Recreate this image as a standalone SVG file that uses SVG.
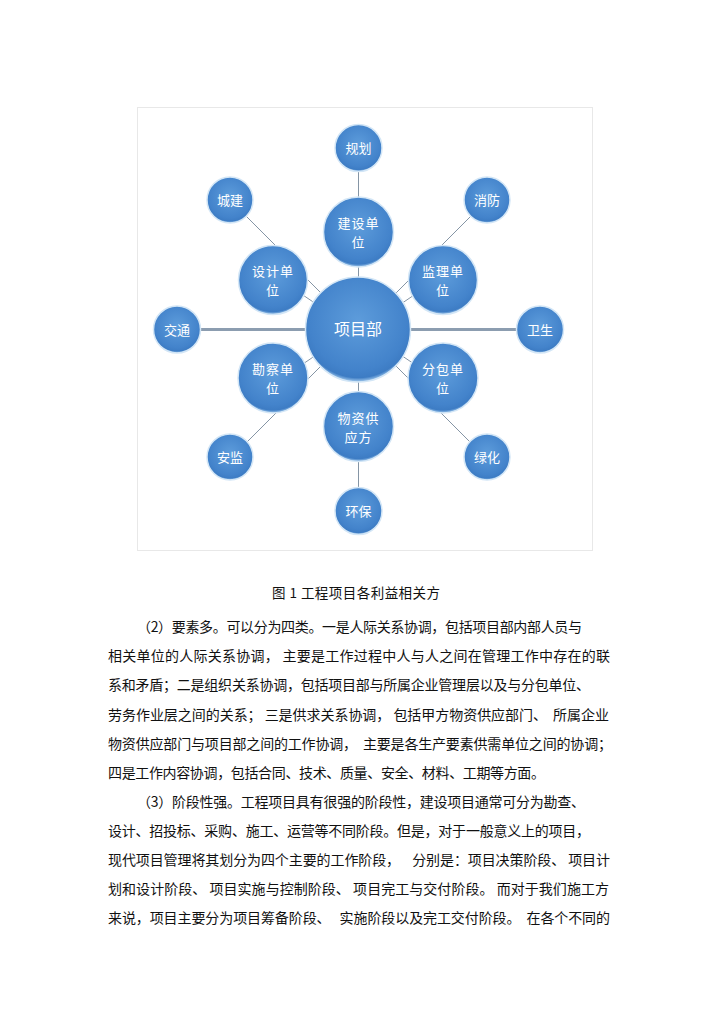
<svg xmlns="http://www.w3.org/2000/svg" width="724" height="1024" viewBox="0 0 724 1024">
<defs>
<radialGradient id="ball" cx="50%" cy="42%" r="58%">
<stop offset="0" stop-color="#5d9cdb"/>
<stop offset="0.8" stop-color="#4383cb"/>
<stop offset="0.93" stop-color="#3d7cc4"/>
<stop offset="1" stop-color="#a9cff0"/>
</radialGradient>
</defs>
<style>
.node circle{fill:url(#ball);stroke:#d3e6f6;stroke-width:1.5}
.node text{font-family:"Noto Sans CJK SC","Noto Sans",sans-serif;fill:#ffffff;text-anchor:middle}
.s{font-size:13px}
.m{font-size:13px;letter-spacing:1px}
.l{font-size:16px}
.thin{stroke:#8595a5;stroke-width:1;fill:none}
.thick{stroke:#8c9db0;stroke-width:3;fill:none}
.body{font-family:"Noto Sans CJK SC","Noto Sans",sans-serif;font-size:14px;fill:#111111;white-space:pre}
.cap{font-family:"Noto Sans CJK SC","Noto Sans",sans-serif;font-size:13.5px;fill:#111111;white-space:pre}
</style>
<rect width="724" height="1024" fill="#ffffff"/>
<rect x="137.5" y="107.5" width="455" height="443" fill="none" stroke="#e8e8e8" stroke-width="1"/>
<g id="connectors">
<line class="thin" x1="358.5" y1="148" x2="358.5" y2="511"/>
<line class="thick" x1="190" y1="329.5" x2="320" y2="329.5"/>
<line class="thick" x1="400" y1="329.5" x2="530" y2="329.5"/>
<line class="thin" x1="230" y1="200" x2="280" y2="250"/>
<line class="thin" x1="487" y1="200" x2="437" y2="250"/>
<line class="thin" x1="230" y1="459" x2="280" y2="409"/>
<line class="thin" x1="487" y1="459" x2="437" y2="409"/>
<line class="thin" x1="300" y1="272" x2="330" y2="302"/>
<line class="thin" x1="297" y1="291" x2="325" y2="310"/>
<line class="thin" x1="417" y1="272" x2="387" y2="302"/>
<line class="thin" x1="420" y1="291" x2="392" y2="310"/>
<line class="thin" x1="300" y1="387" x2="330" y2="357"/>
<line class="thin" x1="297" y1="368" x2="325" y2="349"/>
<line class="thin" x1="417" y1="387" x2="387" y2="357"/>
<line class="thin" x1="420" y1="368" x2="392" y2="349"/>
</g>
<g id="n-guihua" class="node"><circle cx="358.5" cy="148" r="23.5"/><text class="s" x="358.5" y="153">规划</text></g>
<g id="n-chengjian" class="node"><circle cx="230" cy="200" r="23"/><text class="s" x="230" y="205">城建</text></g>
<g id="n-xiaofang" class="node"><circle cx="487" cy="200" r="23"/><text class="s" x="487" y="205">消防</text></g>
<g id="n-jianshe" class="node"><circle cx="358.5" cy="232" r="35"/><text class="m" x="358.5" y="228">建设单<tspan x="358.5" dy="19">位</tspan></text></g>
<g id="n-sheji" class="node"><circle cx="273" cy="280" r="34.5"/><text class="m" x="273" y="276">设计单<tspan x="273" dy="19">位</tspan></text></g>
<g id="n-jianli" class="node"><circle cx="443" cy="280" r="34.5"/><text class="m" x="443" y="276">监理单<tspan x="443" dy="19">位</tspan></text></g>
<g id="n-jiaotong" class="node"><circle cx="177" cy="329.5" r="23.5"/><text class="s" x="177" y="334.5">交通</text></g>
<g id="n-weisheng" class="node"><circle cx="540" cy="329.5" r="23.5"/><text class="s" x="540" y="334.5">卫生</text></g>
<g id="n-xiangmubu" class="node"><circle cx="358" cy="329.5" r="52.5"/><text class="l" x="358" y="334.5">项目部</text></g>
<g id="n-kancha" class="node"><circle cx="273" cy="378" r="35"/><text class="m" x="273" y="374">勘察单<tspan x="273" dy="19">位</tspan></text></g>
<g id="n-fenbao" class="node"><circle cx="443" cy="378" r="35"/><text class="m" x="443" y="374">分包单<tspan x="443" dy="19">位</tspan></text></g>
<g id="n-wuzi" class="node"><circle cx="358.5" cy="426.5" r="35"/><text class="m" x="358.5" y="422.5">物资供<tspan x="358.5" dy="19">应方</tspan></text></g>
<g id="n-anjian" class="node"><circle cx="230" cy="457" r="23"/><text class="s" x="230" y="462">安监</text></g>
<g id="n-lvhua" class="node"><circle cx="487" cy="457" r="23"/><text class="s" x="487" y="462">绿化</text></g>
<g id="n-huanbao" class="node"><circle cx="358.5" cy="511" r="23.5"/><text class="s" x="358.5" y="516">环保</text></g>
<text class="cap" x="272" y="598" textLength="168" lengthAdjust="spacing">图 1 工程项目各利益相关方</text>
<g id="paragraphs">
<text class="body" x="137" y="632" textLength="445" lengthAdjust="spacing">（2）要素多。可以分为四类。一是人际关系协调，包括项目部内部人员与</text>
<text class="body" x="108" y="661" textLength="502" lengthAdjust="spacing">相关单位的人际关系协调， 主要是工作过程中人与人之间在管理工作中存在的联</text>
<text class="body" x="108" y="690" textLength="482" lengthAdjust="spacing">系和矛盾；二是组织关系协调，包括项目部与所属企业管理层以及与分包单位、</text>
<text class="body" x="108" y="719.5" textLength="501" lengthAdjust="spacing">劳务作业层之间的关系； 三是供求关系协调， 包括甲方物资供应部门、  所属企业</text>
<text class="body" x="108" y="748.5" textLength="504" lengthAdjust="spacing">物资供应部门与项目部之间的工作协调，  主要是各生产要素供需单位之间的协调；</text>
<text class="body" x="108" y="778" textLength="437" lengthAdjust="spacing">四是工作内容协调，包括合同、技术、质量、安全、材料、工期等方面。</text>
<text class="body" x="137" y="807" textLength="448" lengthAdjust="spacing">（3）阶段性强。工程项目具有很强的阶段性，建设项目通常可分为勘查、</text>
<text class="body" x="108" y="836" textLength="482" lengthAdjust="spacing">设计、招投标、采购、施工、运营等不同阶段。但是，对于一般意义上的项目，</text>
<text class="body" x="108" y="865" textLength="502" lengthAdjust="spacing">现代项目管理将其划分为四个主要的工作阶段，    分别是：项目决策阶段、 项目计</text>
<text class="body" x="108" y="894" textLength="501" lengthAdjust="spacing">划和设计阶段、 项目实施与控制阶段、 项目完工与交付阶段。 而对于我们施工方</text>
<text class="body" x="108" y="923" textLength="502" lengthAdjust="spacing">来说，项目主要分为项目筹备阶段、   实施阶段以及完工交付阶段。  在各个不同的</text>
</g>
</svg>
